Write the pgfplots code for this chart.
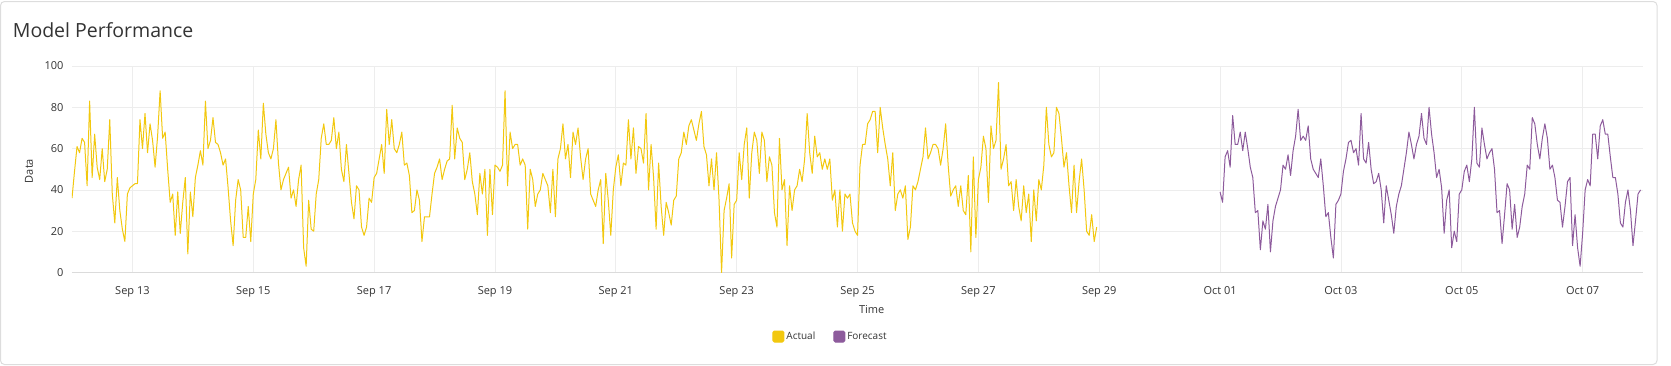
\documentclass[border=0pt]{standalone}
\usepackage{fontspec}
\setmainfont{Open Sans}
\usepackage{pgfplots}
\pgfplotsset{compat=1.18}
\usepackage{pgfplotstable}
\definecolor{actualc}{HTML}{F2C80F}
\definecolor{forecastc}{HTML}{8D5B9C}
\definecolor{gridc}{HTML}{EDEDED}
\definecolor{txtc}{HTML}{333333}
\definecolor{cardc}{HTML}{DDDDDD}

% hourly values, Sep 12 00:00 onwards
\pgfplotstableread[row sep=\\]{
y\\
36\\49\\61\\58\\65\\63\\42\\83\\46\\67\\51\\45\\60\\44\\50\\74\\38\\24\\46\\30\\21\\15\\38\\41\\
42\\43\\43\\74\\60\\77\\58\\72\\64\\51\\66\\88\\65\\68\\50\\34\\38\\18\\39\\19\\34\\46\\9\\39\\
27\\46\\52\\59\\52\\83\\60\\64\\75\\63\\62\\58\\52\\55\\41\\25\\13\\35\\45\\40\\17\\17\\32\\15\\
38\\45\\69\\55\\82\\67\\58\\55\\60\\74\\53\\40\\45\\48\\51\\36\\40\\32\\45\\52\\12\\3\\35\\21\\
20\\38\\45\\65\\72\\62\\62\\64\\75\\60\\68\\50\\44\\62\\48\\34\\26\\42\\40\\22\\18\\22\\36\\34\\
46\\48\\55\\62\\48\\79\\62\\74\\60\\58\\62\\68\\52\\53\\47\\29\\30\\40\\35\\15\\27\\27\\27\\38\\
48\\51\\55\\45\\50\\54\\55\\81\\55\\70\\65\\63\\45\\50\\58\\44\\38\\28\\48\\38\\50\\18\\50\\28\\
52\\51\\49\\52\\88\\42\\68\\60\\62\\62\\52\\55\\52\\21\\50\\45\\32\\38\\40\\48\\45\\42\\29\\50\\
27\\55\\60\\72\\55\\62\\46\\68\\62\\70\\56\\45\\55\\60\\38\\35\\32\\40\\45\\14\\48\\35\\18\\40\\
51\\57\\42\\53\\52\\74\\55\\70\\48\\61\\60\\53\\77\\40\\62\\46\\21\\53\\32\\18\\34\\29\\23\\35\\
37\\55\\58\\68\\62\\71\\74\\69\\64\\72\\78\\61\\57\\42\\55\\40\\58\\35\\0\\30\\36\\43\\7\\33\\
35\\58\\45\\62\\70\\36\\58\\68\\64\\48\\68\\64\\44\\56\\52\\29\\22\\65\\40\\45\\13\\42\\30\\40\\
42\\50\\44\\55\\77\\58\\48\\66\\56\\58\\50\\55\\50\\55\\35\\40\\22\\40\\20\\38\\36\\38\\24\\20\\
18\\52\\62\\62\\72\\74\\78\\78\\58\\80\\70\\62\\55\\42\\58\\30\\38\\40\\36\\42\\16\\22\\42\\40\\
44\\50\\56\\70\\55\\58\\62\\62\\60\\52\\60\\72\\52\\37\\40\\42\\32\\42\\30\\28\\47\\10\\56\\17\\
45\\51\\66\\60\\34\\71\\60\\64\\92\\50\\55\\62\\42\\44\\30\\45\\32\\25\\42\\29\\38\\15\\40\\25\\
45\\40\\52\\80\\62\\56\\58\\80\\77\\65\\51\\58\\42\\29\\52\\29\\44\\55\\40\\20\\18\\28\\15\\22\\
}\actualtable

% hourly values, Oct 01 00:00 onwards
\pgfplotstableread[row sep=\\]{
y\\
39\\34\\56\\59\\51\\76\\62\\62\\68\\59\\68\\60\\51\\46\\29\\30\\11\\25\\21\\33\\10\\25\\32\\36\\
40\\52\\50\\57\\47\\59\\66\\79\\64\\66\\64\\71\\55\\50\\48\\46\\55\\42\\27\\29\\17\\7\\33\\35\\
38\\49\\55\\63\\64\\58\\60\\52\\77\\55\\53\\63\\50\\43\\44\\48\\40\\24\\42\\35\\28\\19\\32\\38\\
42\\50\\58\\68\\62\\55\\62\\66\\77\\65\\62\\80\\67\\58\\46\\50\\41\\19\\35\\40\\12\\20\\15\\38\\
40\\49\\52\\44\\55\\80\\53\\51\\70\\62\\55\\58\\60\\50\\29\\30\\14\\28\\43\\40\\21\\33\\17\\22\\
32\\38\\52\\50\\75\\72\\62\\55\\65\\72\\65\\50\\52\\46\\35\\34\\22\\32\\44\\46\\13\\28\\12\\3\\
19\\40\\45\\42\\67\\67\\55\\71\\74\\67\\67\\56\\46\\46\\38\\24\\22\\34\\40\\30\\13\\25\\38\\40\\
}\forecasttable

\begin{document}
\begin{tikzpicture}
\path[use as bounding box] (0pt,0pt) rectangle (1671pt,-365pt);
\draw[draw=cardc, line width=1pt, rounded corners=4pt] (0.5pt,-1.5pt) rectangle (1657pt,-364.5pt);
\node[anchor=base west, inner sep=0pt, font=\fontsize{19.5}{23}\selectfont, text=txtc] at (12.7pt,-37.3pt) {Model Performance};
\begin{axis}[
  at={(72pt,-272.5pt)}, anchor=south west,
  width=1571pt, height=206.5pt, scale only axis,
  xmin=0, xmax=624, ymin=0, ymax=100,
  axis x line*=bottom, axis y line*=left,
  y axis line style={draw=none},
  x axis line style={-, draw=gray!28, line width=1.5pt},
  major tick length=0pt,
  xtick={24,72,...,600},
  xticklabels={Sep 13,Sep 15,Sep 17,Sep 19,Sep 21,Sep 23,Sep 25,Sep 27,Sep 29,Oct 01,Oct 03,Oct 05,Oct 07},
  ytick={0,20,...,100},
  grid=major,
  major grid style={draw=gridc, line width=0.8pt},
  tick label style={font=\fontsize{11}{13}\selectfont, text=txtc},
  xticklabel style={yshift=-10.8pt},
  yticklabel style={xshift=-5pt},
  /pgf/number format/assume math mode=true,
  xlabel={Time}, ylabel={Data},
  label style={font=\fontsize{11}{13}\selectfont, text=txtc},
  xlabel style={at={(axis description cs:0.509,-0.177)}, anchor=center},
  ylabel style={at={(axis description cs:-0.0274,0.4915)}, anchor=center},
  legend columns=2,
  legend style={at={(axis description cs:0.4828,-0.31)}, anchor=center, draw=none, fill=none,
    font=\fontsize{10}{12}\selectfont, text=txtc,
    /tikz/every even column/.append style={column sep=16pt}},
  legend image code/.code={\fill[#1, rounded corners=1.5pt] (0pt,-5.5pt) rectangle (11pt,5.5pt);},
]
\addplot[color=actualc, line width=1pt, line join=round, mark=none] table[x expr=\coordindex, y=y] {\actualtable};
\addlegendentry{Actual}
\addplot[color=forecastc, line width=1pt, line join=round, mark=none] table[x expr=\coordindex+456, y=y] {\forecasttable};
\addlegendentry{Forecast}
\end{axis}
\end{tikzpicture}
\end{document}
